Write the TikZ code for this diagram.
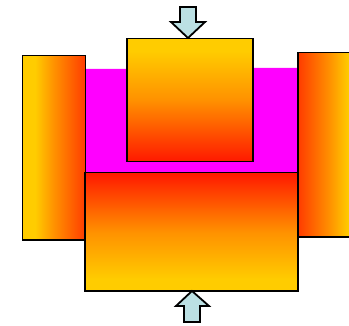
\documentclass[tikz,border=0pt]{standalone}
\usepackage{xcolor}
\definecolor{blockred}{RGB}{255,24,0}
\definecolor{sidered}{RGB}{255,60,0}
\definecolor{blockmid}{RGB}{255,145,0}
\definecolor{blockyellow}{RGB}{255,204,0}
\definecolor{arrowblue}{RGB}{187,224,227}
\definecolor{fillmagenta}{RGB}{255,0,255}
\pgfdeclareverticalshading{blockfade}{100bp}{
  color(0bp)=(blockred); color(25bp)=(blockred); color(50bp)=(blockmid);
  color(70bp)=(blockyellow); color(100bp)=(blockyellow)}
\pgfdeclareverticalshading{sidefade}{100bp}{
  color(0bp)=(sidered); color(25bp)=(sidered); color(50bp)=(blockmid);
  color(65bp)=(blockyellow); color(100bp)=(blockyellow)}
\tikzset{
  block/.style={draw=black, line width=1.8pt, shading=blockfade},
  sideblock/.style={draw=black, line width=1.8pt, shading=sidefade},
  pressarrow/.style={draw=black, line width=1.8pt, fill=arrowblue, line join=miter}
}

\begin{document}
\begin{tikzpicture}[x=1pt,y=-1pt]

  \clip (0,0) rectangle (349,326);

  %--- riempimento centrale
  \fill[fillmagenta] (85,69) -- (127,69) -- (127,68) -- (298,68) -- (298,173) -- (85,173) -- cycle;

  %--- blocchi
  \draw[sideblock, shading angle=90] (22.5,55.5) rectangle (85.5,240);
  \draw[sideblock, shading angle=-90] (298,52.5) rectangle (361,237);
  \draw[block] (127,38.5) rectangle (253,161.5);
  \draw[block, shading angle=180] (85,172.5) rectangle (298,291);

  %--- frecce
  \draw[pressarrow] (180,7) -- (196,7) -- (196,22) -- (205,22) -- (188,38) -- (171,22) -- (180,22) -- cycle;
  \draw[pressarrow] (184,322) -- (200,322) -- (200,306) -- (209,306) -- (192,291) -- (176,306) -- (184,306) -- cycle;

\end{tikzpicture}
\end{document}
